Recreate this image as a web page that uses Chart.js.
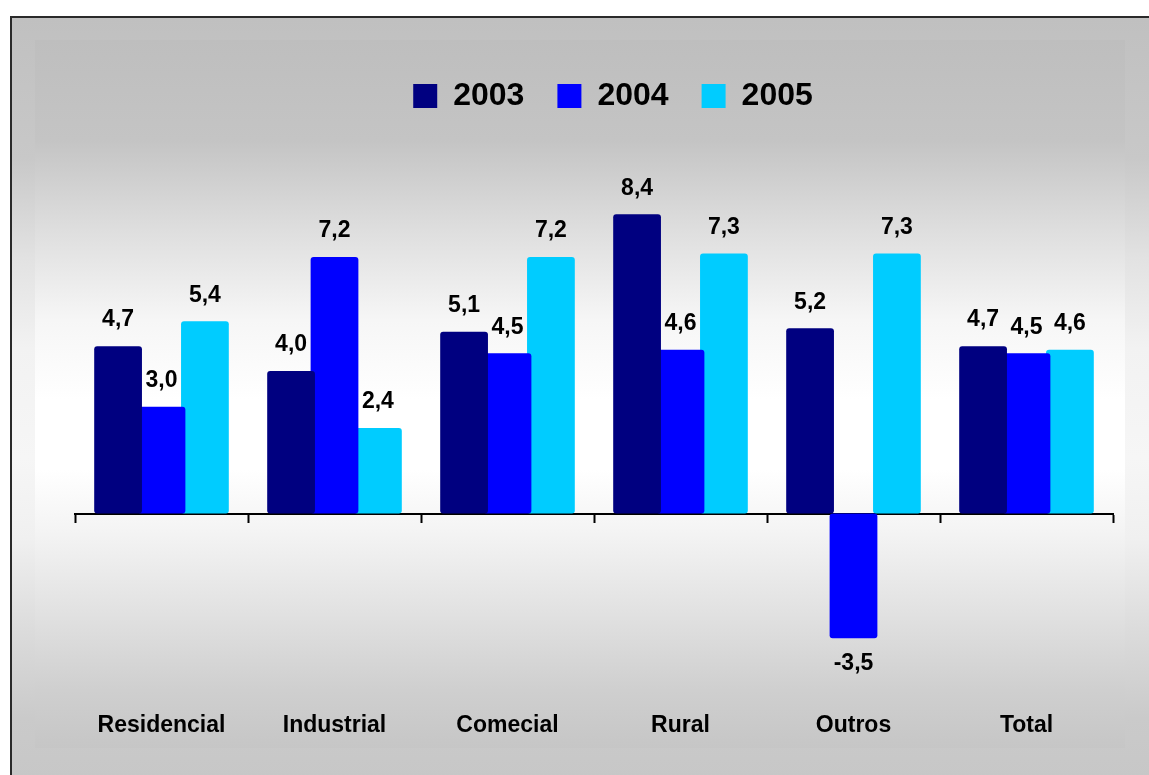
<!DOCTYPE html>
<html>
<head>
<meta charset="utf-8">
<script src="https://cdn.jsdelivr.net/npm/chart.js@4.4.0/dist/chart.umd.min.js"></script>
<style>
    html, body { margin: 0; padding: 0; background: #ffffff; overflow: hidden; }
    #frame {
        position: absolute; left: 10px; top: 16px; width: 1160px; height: 780px;
        border: 2px solid #2a2a2a; box-sizing: border-box;
        background: linear-gradient(to bottom, #c0c0c0 0px, #c8c8c8 140px, #e2e2e2 240px, #f2f2f2 330px, #f6f6f6 440px, #f0f0f0 520px, #dcdcdc 610px, #cacaca 700px, #c6c6c6 780px);
    }
    #panel {
        position: absolute; left: 35px; top: 40px; width: 1090px; height: 708px;
        background: linear-gradient(to bottom, #bebebe 0px, #c4c4c4 100px, #dedede 190px, #f6f6f6 280px, #ffffff 360px, #ffffff 430px, #f4f4f4 490px, #e2e2e2 570px, #cfcfcf 650px, #c6c6c6 708px);
    }
    #wrap { position: absolute; left: 0; top: 0; width: 1149px; height: 775px; }
</style>
</head>
<body>
<div id="frame"></div>
<div id="panel"></div>
<div id="wrap"><canvas id="myChart" width="1149" height="775"></canvas></div>
<script>
const categories = ['Residencial', 'Industrial', 'Comecial', 'Rural', 'Outros', 'Total'];
const years = ['2003', '2004', '2005'];
const values2003 = [4.7, 4.0, 5.1, 8.4, 5.2, 4.7];
const values2004 = [3.0, 7.2, 4.5, 4.6, -3.5, 4.5];
const values2005 = [5.4, 2.4, 7.2, 7.3, 7.3, 4.6];
const colors = ['#000080', '#0000ff', '#00ccff'];

const fontFamily = '"Liberation Sans", Arial, Helvetica, sans-serif';

// writes the value above (or below, if negative) each bar
const valueLabels = {
    id: 'valueLabels',
    afterDatasetsDraw(chart) {
        const ctx = chart.ctx;
        ctx.save();
        ctx.font = 'bold 23px ' + fontFamily;
        ctx.fillStyle = '#000000';
        ctx.textAlign = 'center';
        ctx.textBaseline = 'middle';
        chart.data.datasets.forEach((ds, i) => {
            const meta = chart.getDatasetMeta(i);
            meta.data.forEach((bar, j) => {
                const v = ds.data[j];
                const txt = v.toFixed(1).replace('.', ',');
                const y = v >= 0 ? bar.y - 26 : bar.y + 25;
                ctx.fillText(txt, bar.x, y);
            });
        });
        ctx.restore();
    }
};

// the legend sits a bit right of the plot centre in the original
const legendShift = {
    id: 'legendShift',
    afterLayout(chart) {
        if (chart.legend) {
            chart.legend.left += 19;
            chart.legend.right += 19;
        }
    }
};

function makeDataset(label, data, color) {
    return {
        label: label,
        data: data,
        backgroundColor: color,
        borderColor: color,
        borderWidth: 0,
        borderRadius: 3,
        borderSkipped: false,
        xAxisID: 'x',
        categoryPercentage: 0.753,
        barPercentage: 1.1
    };
}

const ctx = document.getElementById('myChart').getContext('2d');

const myChart = new Chart(ctx, {
    type: 'bar',
    data: {
        labels: categories,
        datasets: [
            makeDataset(years[0], values2003, colors[0]),
            makeDataset(years[1], values2004, colors[1]),
            makeDataset(years[2], values2005, colors[2])
        ]
    },
    options: {
        responsive: false,
        animation: false,
        layout: {
            padding: { left: 75, right: 36, top: 47, bottom: 16 }
        },
        scales: {
            x: {
                type: 'category',
                offset: true,
                grid: { display: false, drawTicks: false },
                border: { display: false },
                ticks: {
                    color: '#000000',
                    padding: 20,
                    maxRotation: 0,
                    font: { family: fontFamily, size: 23, weight: 'bold' }
                }
            },
            zero: {
                type: 'category',
                axis: 'x',
                position: { y: 0 },
                offset: true,
                grid: {
                    offset: true,
                    drawOnChartArea: false,
                    drawTicks: true,
                    tickLength: 8,
                    tickWidth: 2,
                    tickColor: '#000000'
                },
                border: { display: true, color: '#000000', width: 2 },
                ticks: { display: false }
            },
            y: {
                display: false,
                min: -4.99,
                max: 10.99
            }
        },
        plugins: {
            legend: {
                display: true,
                position: 'top',
                fullSize: false,
                labels: {
                    color: '#000000',
                    boxWidth: 24,
                    boxHeight: 24,
                    padding: 33,
                    font: { family: fontFamily, size: 32, weight: 'bold' }
                }
            },
            tooltip: { enabled: false }
        }
    },
    plugins: [valueLabels, legendShift]
});
</script>
</body>
</html>
